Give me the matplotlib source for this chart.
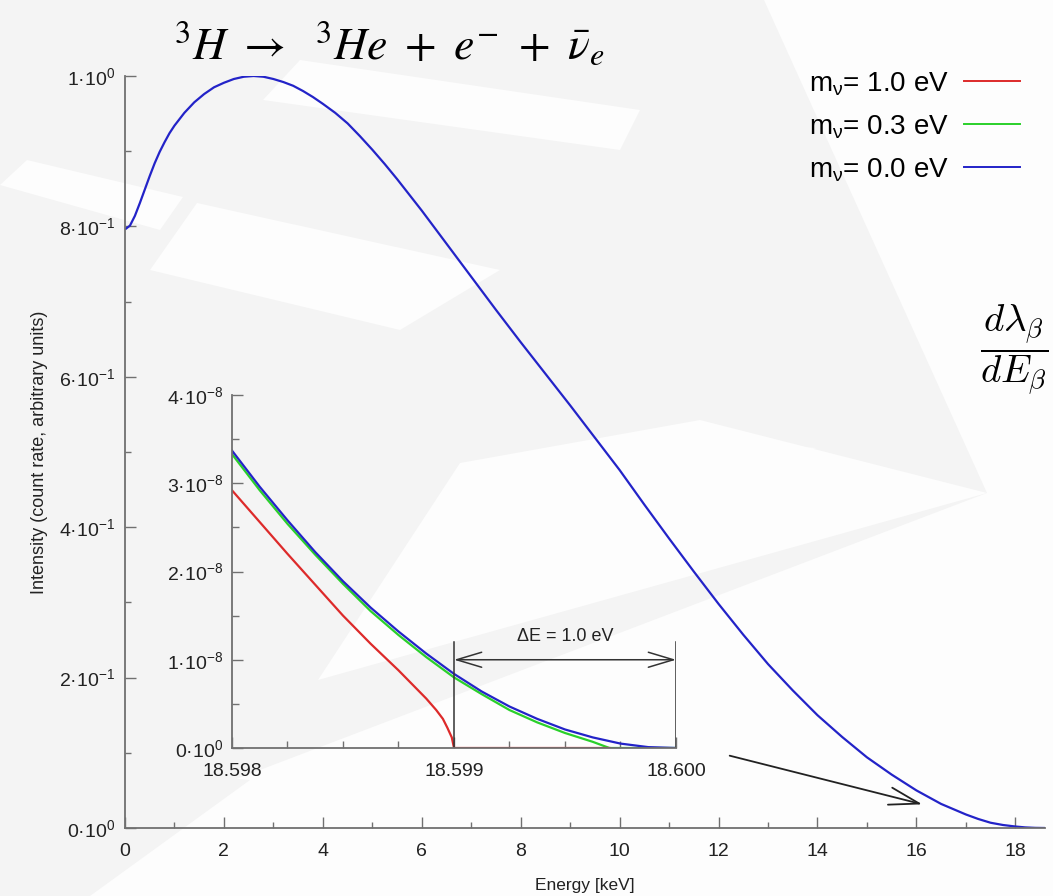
import matplotlib
matplotlib.use("Agg")
import matplotlib.pyplot as plt
from matplotlib.patches import Polygon, FancyArrowPatch
from matplotlib.lines import Line2D
from matplotlib.ticker import MultipleLocator, FuncFormatter
import numpy as np

plt.rcParams['font.family'] = ['Liberation Sans', 'DejaVu Sans']
plt.rcParams['mathtext.fontset'] = 'custom'
plt.rcParams['mathtext.rm'] = 'Liberation Sans'
plt.rcParams['mathtext.it'] = 'Liberation Sans:italic'

# full tritium spectrum, m_nu = 0 (energy in keV, normalised intensity)
energy = [0.02, 0.1, 0.2, 0.3, 0.4, 0.5, 0.6, 0.7, 0.8, 0.9, 1.0, 1.2, 1.4,
          1.6, 1.8, 2.0, 2.2, 2.4, 2.6, 2.8, 3.0, 3.2, 3.4, 3.6, 3.8, 4.0,
          4.25, 4.5, 4.75, 5.0, 5.25, 5.5, 5.75, 6.0, 6.25, 6.5, 6.75, 7.0,
          7.5, 8.0, 8.5, 9.0, 9.5, 10.0, 10.5, 11.0, 11.5, 12.0, 12.5, 13.0,
          13.5, 14.0, 14.5, 15.0, 15.5, 16.0, 16.5, 17.0, 17.25, 17.5, 17.75,
          18.0, 18.2, 18.4, 18.6]
intensity = [0.797, 0.801, 0.814, 0.831, 0.849, 0.867, 0.884, 0.899, 0.912,
             0.924, 0.934, 0.951, 0.965, 0.976, 0.985, 0.991, 0.996, 0.999,
             1.000, 0.999, 0.996, 0.992, 0.987, 0.980, 0.972, 0.963, 0.951,
             0.937, 0.920, 0.902, 0.883, 0.863, 0.842, 0.821, 0.799, 0.777,
             0.755, 0.733, 0.689, 0.646, 0.604, 0.562, 0.519, 0.476, 0.430,
             0.385, 0.341, 0.298, 0.257, 0.218, 0.183, 0.150, 0.121, 0.094,
             0.071, 0.050, 0.032, 0.018, 0.012, 0.007, 0.004, 0.002, 0.0008,
             0.0002, 0.0]

# endpoint region (energy in keV, intensity in units of 1e-8)
e_end = [18.598, 18.598125, 18.59825, 18.598375, 18.5985, 18.598625,
         18.59875, 18.598875, 18.599, 18.599125, 18.59925, 18.599375,
         18.5995, 18.599625, 18.59975, 18.599875, 18.600]
i_m00 = [3.37, 2.96, 2.58, 2.22, 1.89, 1.59, 1.32, 1.07, 0.84, 0.64, 0.47,
         0.33, 0.21, 0.12, 0.05, 0.01, 0.0]

e_m03 = [18.598, 18.598125, 18.59825, 18.598375, 18.5985, 18.598625,
         18.59875, 18.598875, 18.599, 18.599125, 18.59925, 18.599375,
         18.5995, 18.599625, 18.5997, 18.600]
i_m03 = [3.33, 2.92, 2.54, 2.19, 1.86, 1.55, 1.28, 1.03, 0.80, 0.61, 0.43,
         0.29, 0.17, 0.07, 0.0, 0.0]

e_m10 = [18.598, 18.598125, 18.59825, 18.598375, 18.5985, 18.598625,
         18.59875, 18.598875, 18.59892, 18.59895, 18.59897, 18.59899,
         18.599, 18.5997]
i_m10 = [2.92, 2.56, 2.20, 1.85, 1.50, 1.18, 0.88, 0.56, 0.43, 0.33, 0.23,
         0.12, 0.0, 0.0]

labels = ["m$_{\\mathrm{\\nu}}$= 1.0 eV", "m$_{\\mathrm{\\nu}}$= 0.3 eV",
          "m$_{\\mathrm{\\nu}}$= 0.0 eV"]
colors = ['#dd2a2a', '#2ad02a', '#2323c8']

W, H = 1053, 896


def px(x, y):
    return (x / W, 1 - y / H)


def sci(v, pos):
    if abs(v) < 1e-20:
        return "0·10$^{0}$"
    e = int(np.floor(np.log10(abs(v)) + 1e-9))
    m = int(round(v / 10 ** e))
    return "%d·10$^{%d}$" % (m, e)


fig = plt.figure(figsize=(10.53, 8.96), dpi=100)
fig.patch.set_facecolor('#fdfdfd')

# faint watermark in the background
bg = '#f4f4f4'
shapes = [
    [(0, 0), (764, 0), (987, 493), (0, 869)],
    [(0, 760), (250, 780), (90, 896), (0, 896)],
]
for s in shapes:
    fig.patches.append(Polygon([px(*p) for p in s], closed=True,
                               transform=fig.transFigure, facecolor=bg,
                               edgecolor='none', zorder=-10))
white = [
    [(27, 160), (183, 197), (160, 230), (0, 185)],
    [(197, 203), (500, 270), (400, 330), (150, 270)],
    [(263, 100), (620, 150), (640, 110), (300, 60)],
    [(318, 680), (460, 463), (700, 420), (987, 493)],
    [(620, 437), (817, 448), (700, 470), (600, 455)],
]
for s in white:
    fig.patches.append(Polygon([px(*p) for p in s], closed=True,
                               transform=fig.transFigure, facecolor='#fdfdfd',
                               edgecolor='none', zorder=-9))

spine_c = '#707070'

ax = fig.add_axes([125 / W, 1 - 828 / H, 920 / W, 752 / H])
ax.set_facecolor('none')
ax.plot(energy, intensity, color=colors[2], lw=1.6)
ax.set_xlim(0, 18.6)
ax.set_ylim(0, 1)
ax.xaxis.set_major_locator(MultipleLocator(2))
ax.xaxis.set_minor_locator(MultipleLocator(1))
ax.yaxis.set_major_locator(MultipleLocator(0.2))
ax.yaxis.set_minor_locator(MultipleLocator(0.1))
ax.yaxis.set_major_formatter(FuncFormatter(sci))
for s in ['top', 'right']:
    ax.spines[s].set_visible(False)
for s in ['left', 'bottom']:
    ax.spines[s].set_color(spine_c)
    ax.spines[s].set_linewidth(1.3)
ax.tick_params(which='both', direction='in', color=spine_c, width=1,
               labelsize=14, colors='#222222')
ax.tick_params(which='major', length=8)
ax.tick_params(which='minor', length=4)
ax.tick_params(axis='x', pad=11)
ax.tick_params(axis='y', pad=7)
ax.set_xlabel('Energy [keV]', fontsize=12.5, color='#222222', labelpad=13)
ax.set_ylabel('Intensity (count rate, arbitrary units)', fontsize=13,
              color='#222222', labelpad=8)

# inset: last 2 eV before the endpoint
ax2 = fig.add_axes([232 / W, 1 - 748 / H, 444 / W, 353 / H])
ax2.set_facecolor('none')
sc = 1e-8
ax2.plot(e_m03, np.array(i_m03) * sc, color=colors[1], lw=1.6)
ax2.plot(e_m10, np.array(i_m10) * sc, color=colors[0], lw=1.6)
ax2.plot(e_end, np.array(i_m00) * sc, color=colors[2], lw=1.6)
ax2.set_xlim(18.598, 18.600)
ax2.set_ylim(0, 4e-8)
ax2.set_xticks([18.598, 18.599, 18.600])
ax2.set_xticklabels(['18.598', '18.599', '18.600'])
ax2.xaxis.set_minor_locator(MultipleLocator(0.00025))
ax2.yaxis.set_major_locator(MultipleLocator(1e-8))
ax2.yaxis.set_minor_locator(MultipleLocator(0.5e-8))
ax2.yaxis.set_major_formatter(FuncFormatter(sci))
for s in ['top', 'right']:
    ax2.spines[s].set_visible(False)
for s in ['left', 'bottom']:
    ax2.spines[s].set_color(spine_c)
    ax2.spines[s].set_linewidth(1.3)
ax2.tick_params(which='both', direction='in', color=spine_c, width=1,
                labelsize=14, colors='#222222')
ax2.tick_params(which='major', length=8)
ax2.tick_params(which='minor', length=5)
ax2.tick_params(axis='x', pad=11)
ax2.tick_params(axis='y', pad=6)

# delta E bracket
d_lo, d_hi = 18.599, 18.600
for xv in (d_lo, d_hi):
    ax2.plot([xv, xv], [0, 1.2e-8], color='#333333', lw=1.1)
ax2.annotate('', xy=(d_lo, 1.0e-8), xytext=(d_hi, 1.0e-8),
             arrowprops=dict(arrowstyle='<->,head_length=1.0,head_width=0.3',
                             color='#333333', lw=1.1, shrinkA=0, shrinkB=0,
                             mutation_scale=18))
ax2.text((d_lo + d_hi) / 2, 1.26e-8, 'ΔE = 1.0 eV', ha='center', va='center',
         fontsize=13, color='#222222')

# arrow from the inset to the endpoint on the main curve
fig.add_artist(FancyArrowPatch(
    px(727, 755), px(925, 805), transform=fig.transFigure,
    arrowstyle='->,head_length=1.2,head_width=0.35', mutation_scale=18,
    color='#222222', lw=1.3))

# legend: text first, line sample after
handles = [Line2D([], [], color=c, lw=1.4) for c in colors]
fig.legend(handles, labels, loc='upper right', bbox_to_anchor=px(1045, 45),
           frameon=False, markerfirst=False, fontsize=20, handlelength=2.0,
           handletextpad=0.55, labelspacing=0.56)

fig.text(390 / W, 1 - 45 / H,
         r"$^{3}H\ \rightarrow\ \ ^{3}He\ +\ e^{-}\ +\ \bar{\nu}_{e}$",
         math_fontfamily='stix', fontsize=33, ha='center', va='center')
fig.text(1049 / W, 1 - 350 / H, r"$\dfrac{d\lambda_\beta}{dE_\beta}$",
         math_fontfamily='cm', fontsize=28, ha='right', va='center')

fig.savefig('out.png', dpi=100, facecolor=fig.get_facecolor())
